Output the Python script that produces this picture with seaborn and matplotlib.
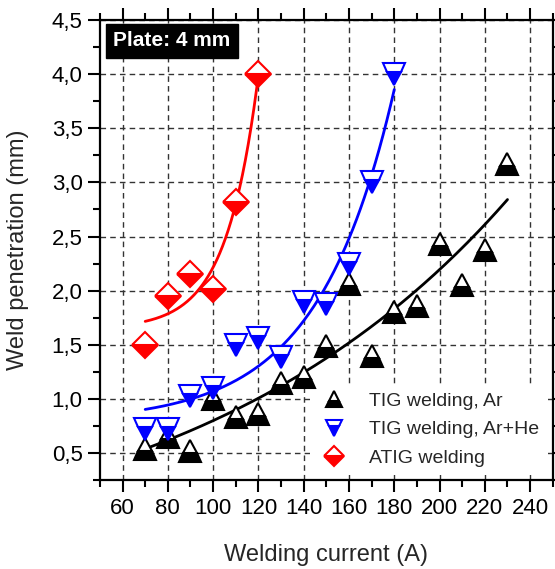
import numpy as np
import pandas as pd
import matplotlib
matplotlib.use("Agg")
import matplotlib.pyplot as plt
import seaborn as sns
from matplotlib.lines import Line2D
from matplotlib.ticker import MultipleLocator, FuncFormatter

# ---- data ----
ar_x = [70, 80, 90, 100, 110, 120, 130, 140, 150, 160, 170, 180, 190, 200, 210, 220, 230]
ar_y = [0.54, 0.65, 0.52, 1.00, 0.83, 0.86, 1.15, 1.20, 1.49, 2.06, 1.40, 1.80, 1.86, 2.43, 2.05, 2.38, 3.17]
arhe_x = [70, 80, 90, 100, 110, 120, 130, 140, 150, 160, 170, 180]
arhe_y = [0.72, 0.72, 1.03, 1.10, 1.50, 1.56, 1.39, 1.90, 1.88, 2.25, 3.00, 4.00]
atig_x = [70, 80, 90, 100, 110, 120]
atig_y = [1.50, 1.95, 2.15, 2.02, 2.82, 4.00]
labels = ["TIG welding, Ar", "TIG welding, Ar+He", "ATIG welding"]
colors = ["black", "blue", "red"]
markers = ["^", "v", "D"]

sns.set_theme(style="ticks")
plt.rcParams['font.family'] = ['Liberation Sans', 'DejaVu Sans']

fig = plt.figure(figsize=(5.55, 5.69), dpi=100)
ax = fig.add_axes([0.18, 0.156, 0.816, 0.809])


def expfit(x, y):
    x = np.asarray(x, float); y = np.asarray(y, float)
    best = None
    for t in np.linspace(5, 400, 2000):
        M = np.column_stack([np.ones_like(x), np.exp((x - x.min()) / t)])
        coef, *_ = np.linalg.lstsq(M, y, rcond=None)
        r = np.sum((M @ coef - y) ** 2)
        if best is None or r < best[0]:
            best = (r, t, coef)
    _, t, coef = best
    xs = np.linspace(x.min(), x.max(), 200)
    return xs, coef[0] + coef[1] * np.exp((xs - x.min()) / t)


series = [(ar_x, ar_y), (arhe_x, arhe_y), (atig_x, atig_y)]
for (xv, yv), c in zip(series, colors):
    xs, ys = expfit(xv, yv)
    sns.lineplot(x=xs, y=ys, color=c, linewidth=2.0, ax=ax, zorder=3)

msz = [16, 16, 13]
for (xv, yv), c, m, s in zip(series, colors, markers, msz):
    df = pd.DataFrame({"x": xv, "y": yv})
    sns.lineplot(data=df, x="x", y="y", linestyle="", marker=m, markersize=s,
                 fillstyle="bottom", markerfacecolor=c, markerfacecoloralt="white",
                 markeredgecolor=c, markeredgewidth=1.5, color=c, ax=ax, zorder=4,
                 estimator=None)

ax.set_xlim(50, 250)
ax.set_ylim(0.25, 4.5)
ax.xaxis.set_major_locator(MultipleLocator(20))
ax.xaxis.set_minor_locator(MultipleLocator(10))
ax.yaxis.set_major_locator(MultipleLocator(0.5))
ax.yaxis.set_minor_locator(MultipleLocator(0.25))
ax.xaxis.set_major_formatter(FuncFormatter(lambda v, p: "" if v < 55 or v > 245 else f"{v:.0f}"))
ax.yaxis.set_major_formatter(FuncFormatter(lambda v, p: f"{v:.1f}".replace(".", ",")))
ax.grid(True, which="major", linestyle=(0, (4, 3)), color="#333333", linewidth=1.0)
for sp in ax.spines.values():
    sp.set_visible(True)
    sp.set_linewidth(1.6)
    sp.set_color("black")
ax.tick_params(which="both", direction="out", top=True, right=True, labeltop=False,
               labelright=False, colors="black", labelsize=16, pad=4)
ax.tick_params(which="major", length=8.5, width=1.5)
ax.tick_params(which="minor", length=5, width=1.5)
ax.set_xlabel("Welding current (A)", fontsize=17, labelpad=18)
ax.set_ylabel("Weld penetration (mm)", fontsize=17, labelpad=16)

ax.text(0.029, 0.975, "Plate: 4 mm", transform=ax.transAxes, fontsize=15,
        fontweight="bold", color="white", va="top", ha="left", zorder=6,
        bbox=dict(boxstyle="square,pad=0.35", facecolor="black", edgecolor="black"))

handles = [Line2D([], [], linestyle="", marker=m, markersize=s * 0.75, fillstyle="bottom",
                  markerfacecolor=c, markerfacecoloralt="white", markeredgecolor=c,
                  markeredgewidth=1.5) for c, m, s in zip(colors, markers, msz)]
leg = ax.legend(handles, labels, loc="lower right", frameon=True, fontsize=14,
                bbox_to_anchor=(1.0, 0.0), handletextpad=1.0, labelspacing=0.55,
                borderaxespad=0.25, borderpad=0.45, fancybox=False, handlelength=1.6)
leg.get_frame().set_facecolor("white")
leg.get_frame().set_edgecolor("none")
leg.get_frame().set_alpha(1.0)
leg.set_zorder(3.5)

fig.savefig("out.png", dpi=100)
